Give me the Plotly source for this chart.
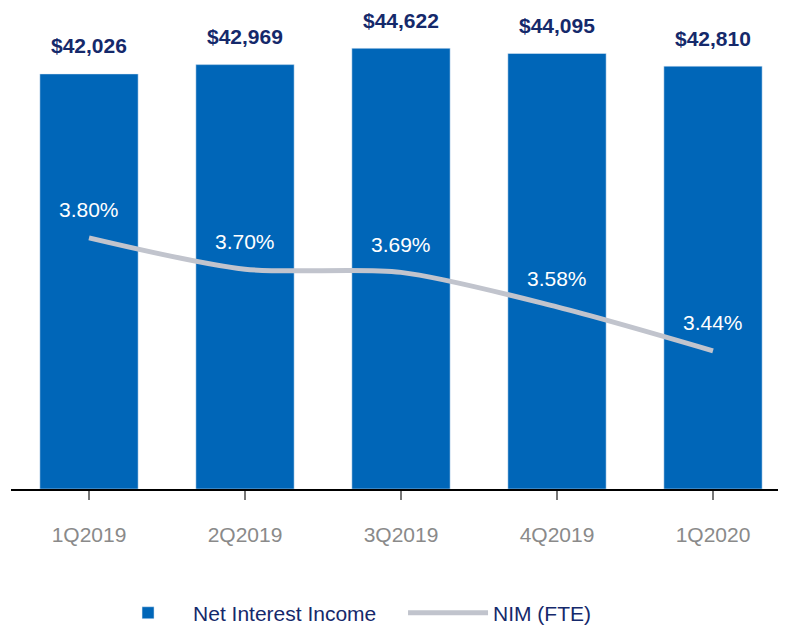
import plotly.graph_objects as go

quarters = ["1Q2019", "2Q2019", "3Q2019", "4Q2019", "1Q2020"]
net_interest_income = [42026, 42969, 44622, 44095, 42810]
nim_fte = [3.80, 3.70, 3.69, 3.58, 3.44]

BAR_BLUE = "#0066b8"
NAVY = "#15296b"
LINE_GREY = "#c1c4cd"
FONT = "Liberation Sans, Arial, sans-serif"

fig = go.Figure()
fig.add_trace(
    go.Bar(
        x=quarters,
        y=net_interest_income,
        name="Net Interest Income",
        marker_color=BAR_BLUE,
        hoverinfo="skip",
    )
)
fig.add_trace(
    go.Scatter(
        x=quarters,
        y=nim_fte,
        name="NIM (FTE)",
        mode="lines",
        line=dict(color=LINE_GREY, width=5, shape="spline", smoothing=0.8),
        yaxis="y2",
        hoverinfo="skip",
    )
)

# value labels
for q, v in zip(quarters, net_interest_income):
    fig.add_annotation(
        x=q, y=v, yref="y", text=f"<b>${v:,}</b>", showarrow=False,
        yshift=28, font=dict(family=FONT, size=21, color=NAVY),
    )
for q, v in zip(quarters, nim_fte):
    fig.add_annotation(
        x=q, y=v, yref="y2", text=f"{v:.2f}%", showarrow=False,
        yshift=28, font=dict(family=FONT, size=21, color="white"),
    )

fig.update_layout(
    width=786,
    height=625,
    margin=dict(l=3, r=3, t=0, b=144, autoexpand=False),
    plot_bgcolor="white",
    paper_bgcolor="white",
    bargap=0.37,
    font=dict(family=FONT),
    xaxis=dict(
        range=[-0.5, 4.5],
        showline=True,
        linecolor="black",
        linewidth=2,
        ticks="outside",
        ticklen=9,
        tickcolor="#777777",
        tickwidth=1.5,
        ticklabelstandoff=17,
        tickfont=dict(size=21, color="#8a8a8a"),
        showgrid=False,
    ),
    yaxis=dict(range=[0, 48701], visible=False, showgrid=False),
    yaxis2=dict(range=[3.0, 4.532], overlaying="y", visible=False, showgrid=False),
    showlegend=True,
    legend=dict(
        orientation="h",
        x=0.118,
        y=-0.258,
        xanchor="left",
        yanchor="middle",
        font=dict(size=21, color=NAVY),
        itemwidth=80,
        entrywidth=205,
        traceorder="normal",
    ),
)

fig.write_html("out.html")
